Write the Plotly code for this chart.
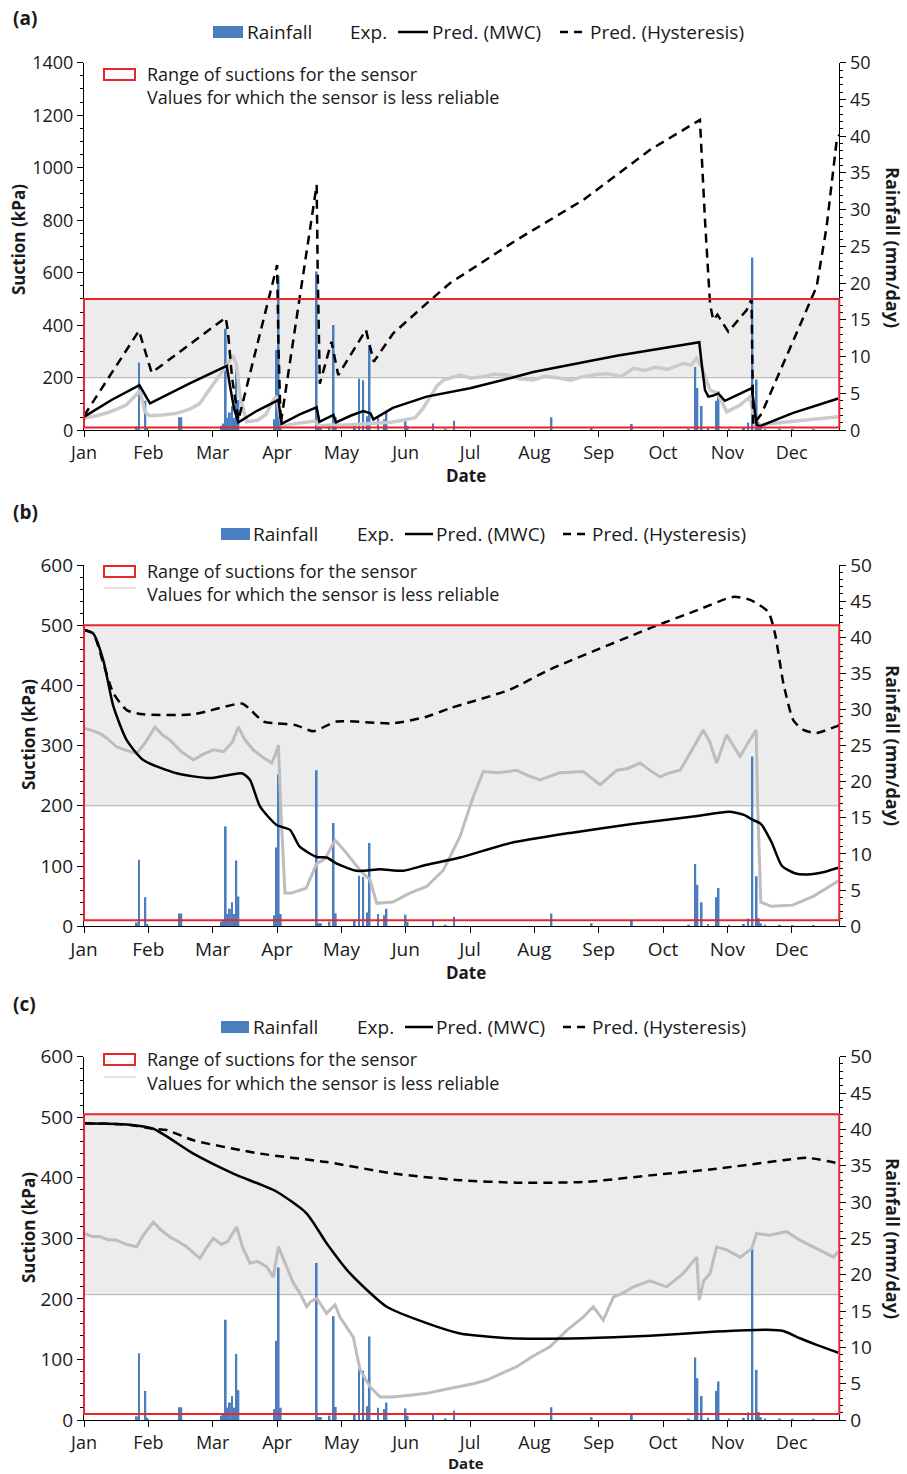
import plotly.graph_objects as go

W, H = 907, 1474

# ---------------- data ----------------
MONTHS = ['Jan', 'Feb', 'Mar', 'Apr', 'May', 'Jun', 'Jul', 'Aug', 'Sep', 'Oct', 'Nov', 'Dec']
MONTH_TICKS = [i * 365 / 12 for i in range(12)]
X_END = 357.1

RAIN_DAY = [25, 26, 29, 30, 45, 46, 65, 66, 67, 68, 69, 70, 71, 72, 73, 90, 91, 92, 93,
            110, 111, 112, 116, 118, 119, 128, 130, 132, 134, 135, 139, 142, 143, 152, 153,
            165, 171, 175, 221, 240, 259, 286, 289, 290, 292, 295, 299, 300, 305, 312, 314,
            316, 318, 319, 320, 322, 329, 335, 345]
RAIN_MM = [0.5, 9.2, 4.0, 0.3, 1.75, 1.75, 0.6, 0.9, 13.8, 1.7, 2.4, 3.3, 1.7, 9.1, 4.1, 1.5, 10.9, 21.0, 1.7,
           21.6, 0.4, 0.4, 0.6, 14.3, 1.8, 0.9, 7.0, 6.8, 1.9, 11.5, 1.7, 1.5, 2.4, 1.6, 0.6,
           0.9, 0.2, 1.3, 1.75, 0.4, 0.85, 0.2, 8.6, 5.75, 3.3, 0.3, 4.0, 5.3, 0.2, 0.3, 1.05,
           23.5, 6.9, 1.1, 0.4, 0.2, 0.2, 0.1, 0.1]

# panel (a)
A_EXP_DAY = [0, 6, 12.3, 20, 25.2, 26.5, 28.8, 31, 37, 43.8, 50, 54.8, 58, 62.7, 66, 69, 70.5, 72, 74,
             76.9, 82, 86, 89.5, 91, 93.5, 100, 105, 109, 111, 116, 124, 130, 136, 145, 152, 156.6,
             160, 163.6, 167, 170, 174, 177.8, 183, 188.8, 194, 200, 206, 212.4, 218, 224, 230, 236,
             242, 248, 254, 259.7, 265, 270, 276, 283.3, 287, 289.7, 292, 296, 299.6, 301.5, 303.9,
             310, 314.9, 317.4, 324, 331, 345, 356.6]
A_EXP = [45, 55, 70, 96, 140, 150, 70, 55, 58, 64, 80, 102, 140, 191, 230, 267, 285, 250, 120,
         32, 38, 60, 115, 130, 15, 25, 30, 35, 15, 20, 20, 22, 25, 30, 40, 48,
         80, 128, 170, 191, 200, 210, 198, 204, 214, 210, 196, 191, 205, 200, 190, 204,
         212, 215, 205, 236, 228, 240, 232, 255, 248, 274, 242, 153, 140, 109, 70,
         95, 127, 17, 25, 30, 40, 51]
A_MWC_DAY = [0, 13, 26.2, 31.2, 50, 67.5, 69, 71, 73, 82, 91.9, 93.4, 102, 110, 111.3, 117.9, 119.2,
             126, 132, 135.5, 136.8, 146, 162, 182.5, 201.4, 212.4, 251.9, 290.9, 292, 293.6, 295.2,
             297.5, 299.9, 303, 309, 315.7, 318, 319.6, 335, 356.6]
A_MWC = [51, 115, 172, 102, 178, 245, 170, 80, 30, 75, 115, 24, 60, 87, 32, 58, 30,
         55, 73, 64, 41, 85, 128, 160, 198, 222, 284, 335, 255, 153, 128,
         132, 140, 112, 135, 160, 20, 15, 65, 121]
A_HYS_DAY = [0, 26, 32, 67, 68, 70, 73, 91.3, 92, 93, 110, 110.5, 111.5, 117, 120.2, 133.3, 137,
             146.2, 162, 173, 204.6, 236, 267.6, 291.2, 293.6, 296, 297.5, 299.5, 304.6, 313.3,
             315.6, 316.4, 320.4, 346.4, 351.1, 355.9, 357.1]
A_HYS = [55, 379, 219, 429, 380, 200, 39, 629, 300, 25, 934, 600, 177, 337, 210, 382, 261,
         369, 483, 560, 725, 877, 1068, 1182, 800, 480, 420, 440, 375, 458,
         500, 20, 64, 547, 775, 1106, 1125]

# panel (b)
B_EXP_DAY = [0, 4, 7.6, 11, 15.4, 20, 24.9, 29, 33.6, 37, 40.7, 46, 51.7, 56, 61.1, 66, 70, 73, 76,
             80, 84, 88.7, 90.5, 91.9, 93, 95, 98, 105, 110, 114, 118.7, 124.2, 130.5, 135.2, 138.4,
             146, 154, 162, 169.9, 177.8, 184, 188.8, 196, 204.6, 210, 215.6, 225, 236, 244, 251.9,
             257, 262.9, 268, 272.3, 277, 281.8, 287, 292.8, 296, 299.1, 303.8, 307, 310.2, 314,
             316.4, 317.8, 318.5, 320, 325, 335, 345, 356.6]
B_EXP = [329, 325, 320, 312, 298, 292, 287, 305, 331, 318, 309, 290, 276, 285, 293, 290, 305, 331, 310,
         293, 282, 271, 285, 301, 200, 55, 55, 63, 104, 112, 143, 121, 93, 77, 38,
         40, 55, 66, 93, 149, 215, 257, 255, 259, 250, 243, 255, 257, 235, 259,
         262, 271, 258, 248, 255, 259, 290, 326, 305, 271, 318, 300, 282, 305,
         318, 326, 200, 40, 33, 35, 50, 75]
B_MWC_DAY = [0, 4.4, 9.1, 13.9, 20.2, 28, 43.8, 59.6, 74.6, 78.5, 83.2, 91.1, 97.4, 102, 110, 114.7,
             119.5, 128.9, 140, 151, 162, 177.8, 201.4, 230, 260, 290, 305, 312, 316, 320, 325,
             330, 336, 342, 350, 356.6]
B_MWC = [492, 486, 442, 365, 309, 276, 254, 246, 254, 243, 199, 168, 160, 132, 115, 114,
         104, 92, 94.5, 92, 102, 114, 138, 155, 170, 183, 190, 185, 177, 170, 140,
         100, 88, 86, 90, 97]
B_HYS_DAY = [0, 4.4, 9.1, 13.9, 20.2, 28, 51.7, 74.6, 78, 84.8, 91, 100, 108.4, 119.5, 146, 162,
             173, 201.4, 220, 267.6, 290, 307, 315, 323.5, 326.7, 330.7, 335.4, 340.1, 346.4, 355, 357.1]
B_HYS = [492, 486, 437, 387, 359, 352, 352, 370, 362, 340, 337, 334, 324, 340, 337, 348,
         362, 393, 426, 495, 525, 547, 542, 522, 486, 403, 342, 326, 321, 331, 334]

# panel (c)
C_EXP_DAY = [0, 4, 7.6, 11, 15.4, 20, 24.9, 28, 32.8, 36, 40.7, 44, 48.5, 52, 54.8, 58, 61.1, 65, 68,
             72.2, 75, 78.5, 82, 86.4, 89.5, 91.9, 95, 99, 102, 105.3, 107, 110, 114.7, 118.7, 121,
             124.2, 127.3, 130.5, 135.2, 140, 146, 154, 162, 170, 177.8, 184, 190.4, 196, 204.6, 212,
             220.3, 228.2, 236, 240.8, 245.5, 250.3, 255, 259.7, 267.6, 275.5, 283.3, 289.7, 290.9,
             293, 296, 299.1, 303.8, 310.2, 315.7, 318, 324, 332.2, 338.5, 346.4, 354.3, 356.6]
C_EXP = [308, 303, 303, 298, 297, 290, 286, 305, 327, 315, 302, 296, 286, 275, 267, 285, 300, 290, 295,
         319, 285, 259, 262, 253, 236, 286, 260, 226, 210, 187, 195, 201, 176, 190, 170,
         154, 137, 83, 55, 38, 38, 41, 44, 50, 55, 60, 66, 75, 88, 105,
         121, 148, 170, 187, 165, 203, 210, 220, 230, 220, 242, 269, 198,
         230, 242, 286, 281, 269, 283, 308, 305, 311, 297, 283, 269, 278]
C_MWC_DAY = [0, 20.2, 32.8, 51.7, 70.6, 91.1, 105.3, 114.7, 125.8, 143.1, 162, 177.8, 201.4, 236,
             267.6, 299, 322.8, 330.6, 338.5, 346.4, 356.6]
C_MWC = [490, 488, 481, 440, 407, 377, 341, 292, 242, 187, 160, 143, 135, 135,
         139, 146, 149, 147, 135, 124, 111]
C_HYS_DAY = [0, 20.2, 32.8, 39, 51.7, 83.2, 114.7, 146.3, 177.8, 204.6, 236, 267.6, 299.1, 330.6,
             341.7, 356.6]
C_HYS = [490, 488, 481, 479, 462, 440, 426, 407, 396, 392, 393, 404, 415, 429, 433, 424]

SENSOR_MIN = [10, 10, 10]
SENSOR_MAX = [500, 500, 505]
RELIABLE_LIMIT = [200, 200, 207]

LEGEND_TOP = ['Rainfall', 'Exp.', 'Pred. (MWC)', 'Pred. (Hysteresis)']
LEGEND_BOX = ['Range of suctions for the sensor', 'Values for which the sensor is less reliable']

# ---------------- style / geometry ----------------
FONT = 'Open Sans'
BLUE = '#4a7ebf'
RED = '#e8252b'
TXT = '#1a1a1a'


def fx(px):
    return px / W


def fy(py):
    return 1 - py / H


panels = [
    dict(tag='(a)', xa='x', yr='y', yl='y2', top=62.7, bot=430.2, ymax=1400, dt=200, mdt=50,
         exp=(A_EXP_DAY, A_EXP), mwc=(A_MWC_DAY, A_MWC), hys=(A_HYS_DAY, A_HYS),
         expc='#cacaca', expw=3.5, shape='linear', tick=18, xtick=18,
         tag_y=18, leg_y=32, l2_y=74, l3_y=97, date_y=476, date_fs=17, ytx=18, ytitle_y=240, rtitle_y=247,
         lx=dict(rect=(213, 243), rain=245, exp=348, mwc=(398, 428), mwct=430, hys=(560, 583), hyst=588),
         faint=False),
    dict(tag='(b)', xa='x2', yr='y3', yl='y4', top=565, bot=926.2, ymax=600, dt=100, mdt=20,
         exp=(B_EXP_DAY, B_EXP), mwc=(B_MWC_DAY, B_MWC), hys=(B_HYS_DAY, B_HYS),
         expc='#bdbdbd', expw=3, shape='spline', tick=19, xtick=19,
         tag_y=512, leg_y=534, l2_y=571, l3_y=594, date_y=972, date_fs=17, ytx=28, ytitle_y=735, rtitle_y=745,
         lx=dict(rect=(221, 250), rain=251, exp=355, mwc=(405, 433), mwct=434, hys=(563, 585), hyst=590),
         faint=True),
    dict(tag='(c)', xa='x3', yr='y5', yl='y6', top=1056.7, bot=1420, ymax=600, dt=100, mdt=20,
         exp=(C_EXP_DAY, C_EXP), mwc=(C_MWC_DAY, C_MWC), hys=(C_HYS_DAY, C_HYS),
         expc='#bdbdbd', expw=3, shape='spline', tick=19, xtick=18,
         tag_y=1004, leg_y=1027, l2_y=1059, l3_y=1083, date_y=1463, date_fs=15, ytx=28, ytitle_y=1228,
         rtitle_y=1238,
         lx=dict(rect=(221, 249), rain=251, exp=355, mwc=(405, 433), mwct=434, hys=(563, 585), hyst=590),
         faint=True),
]

fig = go.Figure()
shapes = []
annotations = []
layout = {}


def key(axid):
    return axid[0] + 'axis' + axid[1:]


for i, p in enumerate(panels):
    fig.add_trace(go.Bar(x=RAIN_DAY, y=RAIN_MM, width=0.9, marker=dict(color=BLUE, line=dict(width=0)),
                         xaxis=p['xa'], yaxis=p['yr'], showlegend=False))
    lkw = dict(xaxis=p['xa'], yaxis=p['yl'], mode='lines', showlegend=False)
    fig.add_trace(go.Scatter(x=p['exp'][0], y=p['exp'][1],
                             line=dict(color=p['expc'], width=p['expw']), **lkw))
    fig.add_trace(go.Scatter(x=p['hys'][0], y=p['hys'][1],
                             line=dict(color='black', width=2.5, dash='9px,6px', shape=p['shape'],
                                       smoothing=0.6), **lkw))
    fig.add_trace(go.Scatter(x=p['mwc'][0], y=p['mwc'][1],
                             line=dict(color='black', width=2.5, shape=p['shape'], smoothing=0.6), **lkw))

    dom_y = [fy(p['bot']), fy(p['top'])]
    dom_x = [fx(84), fx(839.3)]
    common = dict(ticks='outside', ticklen=6, tickcolor='black', showline=True, linecolor='black',
                  linewidth=1.2, showgrid=False, zeroline=False, automargin=False)
    yfont = dict(family=FONT, size=p['tick'], color=TXT)
    xfont = dict(family=FONT, size=p['xtick'], color=TXT)
    layout[key(p['xa'])] = dict(domain=dom_x, anchor=p['yr'], range=[0, X_END], tickfont=xfont,
                                tickmode='array', tickvals=MONTH_TICKS, ticktext=MONTHS, **common)
    layout[key(p['yr'])] = dict(domain=dom_y, anchor=p['xa'], side='right', range=[0, 50], dtick=5,
                                minor=dict(ticks='outside', ticklen=3, dtick=1, tickcolor='black'),
                                tickfont=yfont, **common)
    layout[key(p['yl'])] = dict(overlaying=p['yr'], anchor=p['xa'], side='left', range=[0, p['ymax']],
                                dtick=p['dt'], tickfont=yfont,
                                minor=dict(ticks='outside', ticklen=3, dtick=p['mdt'], tickcolor='black'),
                                **common)

    xd = p['xa'] + ' domain'
    shapes.append(dict(type='rect', xref=xd, yref=p['yl'], x0=0, x1=1,
                       y0=RELIABLE_LIMIT[i], y1=SENSOR_MAX[i], fillcolor='#ececec',
                       line=dict(width=0), layer='below'))
    shapes.append(dict(type='line', xref=xd, yref=p['yl'], x0=0, x1=1,
                       y0=RELIABLE_LIMIT[i], y1=RELIABLE_LIMIT[i],
                       line=dict(color='#b0b0b0', width=1), layer='below'))
    shapes.append(dict(type='rect', xref=xd, yref=p['yl'], x0=0, x1=1,
                       y0=SENSOR_MIN[i], y1=SENSOR_MAX[i], line=dict(color=RED, width=2),
                       fillcolor='rgba(0,0,0,0)', layer='above'))

    annotations.append(dict(text='<b>' + p['tag'] + '</b>', x=fx(11), y=fy(p['tag_y']), xref='paper',
                            yref='paper', xanchor='left', yanchor='middle', showarrow=False,
                            font=dict(family=FONT, size=19, color=TXT)))
    lx = p['lx']
    ly = p['leg_y']
    shapes.append(dict(type='rect', xref='paper', yref='paper', x0=fx(lx['rect'][0]), x1=fx(lx['rect'][1]),
                       y0=fy(ly + 6), y1=fy(ly - 6), fillcolor=BLUE, line=dict(width=0)))
    shapes.append(dict(type='line', xref='paper', yref='paper', x0=fx(lx['mwc'][0]), x1=fx(lx['mwc'][1]),
                       y0=fy(ly), y1=fy(ly), line=dict(color='black', width=2.5)))
    shapes.append(dict(type='line', xref='paper', yref='paper', x0=fx(lx['hys'][0]), x1=fx(lx['hys'][1]),
                       y0=fy(ly), y1=fy(ly), line=dict(color='black', width=2.5, dash='8px,6px')))
    for txt, xx in zip(LEGEND_TOP, [lx['rain'], lx['exp'], lx['mwct'], lx['hyst']]):
        annotations.append(dict(text=txt, x=fx(xx), y=fy(ly), xref='paper', yref='paper',
                                xanchor='left', yanchor='middle', showarrow=False,
                                font=dict(family=FONT, size=19, color=TXT)))
    shapes.append(dict(type='rect', xref='paper', yref='paper', x0=fx(104), x1=fx(135),
                       y0=fy(p['l2_y'] + 6), y1=fy(p['l2_y'] - 5), line=dict(color=RED, width=2),
                       fillcolor='white'))
    if p['faint']:
        shapes.append(dict(type='line', xref='paper', yref='paper', x0=fx(104), x1=fx(136),
                           y0=fy(p['l3_y'] - 6), y1=fy(p['l3_y'] - 6),
                           line=dict(color='#e2e2e2', width=2)))
    for txt, yy in zip(LEGEND_BOX, [p['l2_y'], p['l3_y']]):
        annotations.append(dict(text=txt, x=fx(145), y=fy(yy), xref='paper', yref='paper',
                                xanchor='left', yanchor='middle', showarrow=False,
                                font=dict(family=FONT, size=18, color=TXT)))
    annotations.append(dict(text='<b>Date</b>', x=fx(466), y=fy(p['date_y']), xref='paper', yref='paper',
                            xanchor='center', yanchor='middle', showarrow=False, borderpad=0,
                            font=dict(family=FONT, size=p['date_fs'], color=TXT)))
    annotations.append(dict(text='<b>Suction (kPa)</b>', x=fx(p['ytx']), y=fy(p['ytitle_y']),
                            xref='paper', yref='paper', xanchor='center', yanchor='middle',
                            textangle=-90, showarrow=False, font=dict(family=FONT, size=17, color=TXT)))
    annotations.append(dict(text='<b>Rainfall (mm/day)</b>', x=fx(893), y=fy(p['rtitle_y']),
                            xref='paper', yref='paper', xanchor='center', yanchor='middle',
                            textangle=90, showarrow=False, font=dict(family=FONT, size=18, color=TXT)))

fig.update_layout(template='none', width=W, height=H, margin=dict(l=0, r=0, t=0, b=0),
                  paper_bgcolor='white', plot_bgcolor='white', showlegend=False, barmode='overlay',
                  shapes=shapes, annotations=annotations, **layout)
fig.write_html('out.html', config={'displayModeBar': False},
               post_script="document.body.style.margin='0';document.body.style.padding='0';")
